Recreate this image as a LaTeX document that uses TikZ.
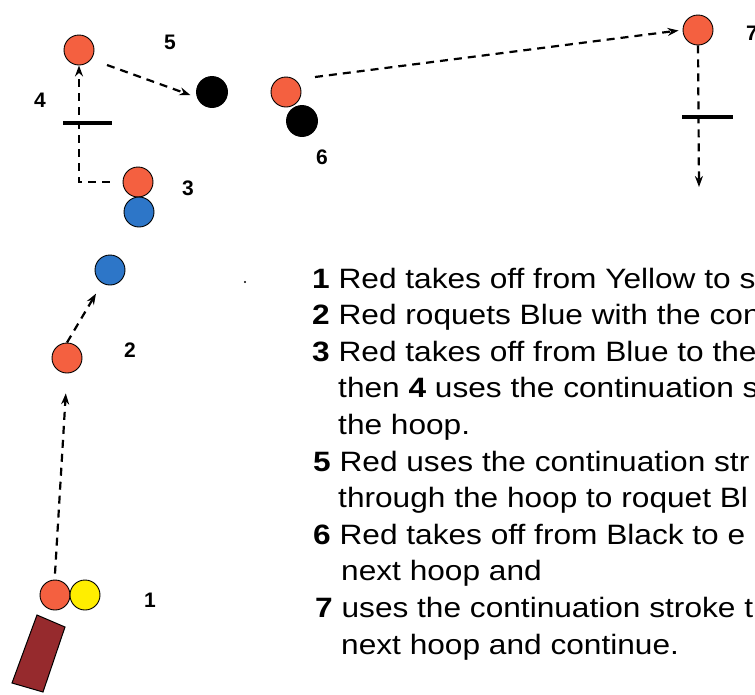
\documentclass[tikz,border=0pt]{standalone}
\usepackage{fontspec}
\setmainfont{Liberation Sans}
\newfontfamily\txtfont{Liberation Sans}[FakeStretch=1.13]
\usetikzlibrary{arrows.meta}
\definecolor{ballred}{RGB}{244,96,64}
\definecolor{ballblue}{RGB}{45,118,200}
\definecolor{ballyellow}{RGB}{255,238,0}
\definecolor{malletred}{RGB}{150,42,45}
\tikzset{
  ball/.style={circle, draw=black, line width=0.9pt, minimum size=30pt, inner sep=0pt},
  redb/.style={ball, fill=ballred},
  blueb/.style={ball, fill=ballblue},
  yellowb/.style={ball, fill=ballyellow},
  blackb/.style={ball, fill=black, minimum size=31pt},
  conn/.style={line width=2.2pt, dash pattern=on 8pt off 6pt, -{Stealth[length=11pt,width=8pt]}},
  hoop/.style={line width=3.8pt},
  lbl/.style={inner sep=0pt, font=\fontsize{21}{21}\selectfont\bfseries},
  txt/.style={anchor=base west, inner sep=0pt, font=\txtfont\fontsize{28}{34}\selectfont}
}
\begin{document}
\begin{tikzpicture}[x=1pt,y=-1pt]
\useasboundingbox (0,0) rectangle (755,694);
\clip (0,0) rectangle (755,694);
\fill[white] (0,0) rectangle (755,694);

% balls
\node[redb] (r1) at (55,595) {};
\node[yellowb] (y1) at (85,595) {};
\node[redb] (r2) at (67,358) {};
\node[blueb] (b2) at (110,270) {};
\node[redb] (r3) at (138,182) {};
\node[blueb] (b3) at (139,212) {};
\node[redb] (r5) at (79,50) {};
\node[blackb] (k5) at (212,92) {};
\node[redb] (r6) at (286,92) {};
\node[blackb] (k6) at (302,121) {};
\node[redb] (r7) at (698,30) {};

% mallet
\draw[fill=malletred, line width=1pt] (37,615) -- (65,627) -- (43,692) -- (12,683) -- cycle;

% hoops
\draw[hoop] (63,123) -- (112,123);
\draw[hoop] (682,117) -- (733,117);

% connectors
\coordinate (s5) at (107,65);
\coordinate (s6) at (315,77);
\coordinate (e7) at (699,187);
\draw[conn, shorten >=20pt] ([yshift=6pt]r1.north) -- (r2.south);
\draw[conn, shorten >=12pt] (r2.north) -- (b2);
\draw[conn] ([xshift=-13pt]r3.west) -| (r5.south);
\draw[conn, shorten >=7pt] (s5) -- (k5.200);
\draw[conn, shorten >=4pt] (s6) -- (r7.west);
\draw[conn] (r7.south) -- (e7);

% small dot
\fill (245,282) circle (1.2pt);

% labels
\node[lbl] (l1) at (150,600) {1};
\node[lbl] (l2) at (130,350) {2};
\node[lbl] (l3) at (188,188) {3};
\node[lbl] (l4) at (40,100) {4};
\node[lbl] (l5) at (170,42) {5};
\node[lbl] (l6) at (322,157) {6};
\node[lbl] (l7) at (752,33) {7};

% text
\node[txt] (t1) at (312,288) {\textbf{1} Red takes off from Yellow to s};
\node[txt] (t2) at (312,324.6) {\textbf{2} Red roquets Blue with the con};
\node[txt] (t3) at (312,361.2) {\textbf{3} Red takes off from Blue to the};
\node[txt] (t4) at (338,397.8) {then \textbf{4} uses the continuation s};
\node[txt] (t5) at (338,434.4) {the hoop.};
\node[txt] (t6) at (313,471) {\textbf{5} Red uses the continuation str};
\node[txt] (t7) at (338,507.6) {through the hoop to roquet Bl};
\node[txt] (t8) at (313,544.2) {\textbf{6} Red takes off from Black to e};
\node[txt] (t9) at (341,580.8) {next hoop and};
\node[txt] (t10) at (315,617.4) {\textbf{7} uses the continuation stroke t};
\node[txt] (t11) at (341,654) {next hoop and continue.};
\end{tikzpicture}
\end{document}
